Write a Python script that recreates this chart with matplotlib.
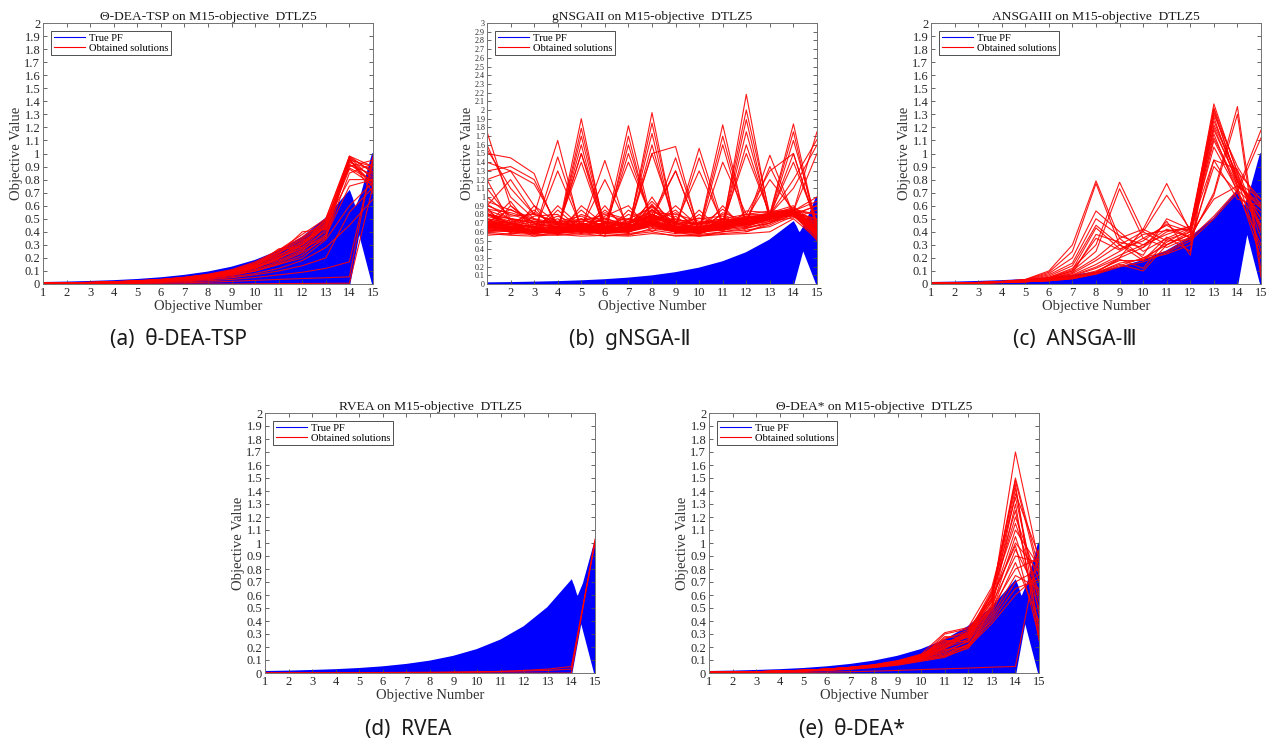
import matplotlib
matplotlib.use("Agg")
import matplotlib.pyplot as plt
from matplotlib.lines import Line2D

plt.rcParams["font.family"] = ["Liberation Serif", "DejaVu Serif"]

OBJ = list(range(1, 16))

# true Pareto front outline (DTLZ5, 15 objectives)
PF_TOP = [0.008, 0.011, 0.016, 0.022, 0.031, 0.044, 0.0625, 0.088, 0.125,
          0.177, 0.25, 0.354, 0.5, 0.707]
PF_DIP_X = [14.1, 14.2, 14.28, 14.53]
PF_DIP_Y = [0.66, 0.60, 0.58, 0.69]
PF_LAST = 1.0
NOTCH_X = 14.41
NOTCH_Y = 0.41

# obtained solutions, one row per solution (objectives 1..15)
TSP_SOLS = [
    [0.005, 0.007, 0.01, 0.014, 0.02, 0.028, 0.04, 0.06, 0.09, 0.14, 0.22, 0.3, 0.44, 0.97, 0.8],
    [0.006, 0.008, 0.011, 0.016, 0.022, 0.03, 0.045, 0.065, 0.1, 0.15, 0.24, 0.32, 0.46, 0.98, 0.85],
    [0.004, 0.006, 0.009, 0.012, 0.018, 0.025, 0.036, 0.055, 0.08, 0.12, 0.2, 0.28, 0.4, 0.95, 0.9],
    [0.005, 0.007, 0.01, 0.015, 0.02, 0.03, 0.042, 0.06, 0.09, 0.13, 0.18, 0.26, 0.38, 0.92, 0.78],
    [0.006, 0.009, 0.012, 0.017, 0.024, 0.034, 0.05, 0.07, 0.1, 0.16, 0.26, 0.36, 0.48, 0.9, 0.95],
    [0.004, 0.006, 0.008, 0.012, 0.017, 0.024, 0.035, 0.05, 0.075, 0.11, 0.17, 0.25, 0.42, 0.96, 0.7],
    [0.005, 0.007, 0.01, 0.014, 0.02, 0.029, 0.042, 0.06, 0.088, 0.13, 0.2, 0.3, 0.45, 0.94, 0.82],
    [0.006, 0.008, 0.011, 0.016, 0.023, 0.033, 0.048, 0.068, 0.1, 0.15, 0.23, 0.4, 0.42, 0.93, 0.88],
    [0.005, 0.007, 0.01, 0.015, 0.021, 0.03, 0.043, 0.062, 0.09, 0.14, 0.27, 0.28, 0.44, 0.88, 0.76],
    [0.004, 0.006, 0.009, 0.013, 0.019, 0.027, 0.038, 0.055, 0.08, 0.12, 0.19, 0.3, 0.5, 0.97, 0.86],
    [0.005, 0.007, 0.01, 0.014, 0.02, 0.028, 0.04, 0.058, 0.085, 0.125, 0.2, 0.27, 0.36, 0.85, 0.92],
    [0.006, 0.008, 0.012, 0.017, 0.024, 0.034, 0.05, 0.072, 0.105, 0.16, 0.24, 0.34, 0.47, 0.8, 0.8],
    [0.004, 0.006, 0.008, 0.011, 0.016, 0.022, 0.032, 0.046, 0.068, 0.1, 0.16, 0.24, 0.35, 0.96, 0.74],
    [0.005, 0.007, 0.01, 0.014, 0.02, 0.029, 0.041, 0.06, 0.09, 0.13, 0.21, 0.33, 0.43, 0.91, 0.84],
    [0.003, 0.005, 0.007, 0.01, 0.014, 0.02, 0.03, 0.045, 0.065, 0.1, 0.15, 0.22, 0.37, 0.75, 0.8],
    [0.004, 0.006, 0.008, 0.011, 0.016, 0.022, 0.032, 0.046, 0.07, 0.1, 0.15, 0.2, 0.34, 0.6, 0.78],
    [0.003, 0.004, 0.006, 0.009, 0.013, 0.018, 0.026, 0.038, 0.055, 0.08, 0.12, 0.18, 0.28, 0.45, 0.65],
    [0.003, 0.004, 0.006, 0.008, 0.011, 0.016, 0.023, 0.033, 0.048, 0.07, 0.1, 0.14, 0.2, 0.55, 0.74],
    [0.002, 0.003, 0.004, 0.006, 0.008, 0.012, 0.017, 0.025, 0.035, 0.05, 0.07, 0.09, 0.12, 0.17, 0.95],
    [0.001, 0.002, 0.003, 0.004, 0.005, 0.007, 0.01, 0.014, 0.02, 0.028, 0.035, 0.042, 0.048, 0.055, 0.98],
    [0.0, 0.0, 0.0, 0.0, 0.0, 0.0, 0.0, 0.0, 0.0, 0.002, 0.003, 0.004, 0.005, 0.006, 0.75],
    [0.006, 0.009, 0.013, 0.018, 0.026, 0.036, 0.052, 0.075, 0.11, 0.17, 0.26, 0.38, 0.5, 0.98, 0.9],
    [0.005, 0.008, 0.011, 0.016, 0.022, 0.031, 0.045, 0.065, 0.095, 0.145, 0.22, 0.31, 0.46, 0.95, 0.77],
    [0.005, 0.007, 0.01, 0.015, 0.021, 0.03, 0.044, 0.063, 0.093, 0.14, 0.25, 0.35, 0.49, 0.89, 0.79],
]

GNSGA_SOLS = [
    [0.58, 0.56, 0.55, 0.57, 0.55, 0.56, 0.55, 0.58, 0.56, 0.55, 0.57, 0.58, 0.6, 0.75, 0.52],
    [0.62, 0.6, 0.58, 0.6, 0.57, 0.6, 0.58, 0.62, 0.58, 0.57, 0.6, 0.62, 0.66, 0.78, 0.55],
    [0.66, 0.62, 0.6, 0.65, 0.6, 0.62, 0.6, 0.68, 0.6, 0.6, 0.62, 0.65, 0.7, 0.8, 0.58],
    [0.7, 0.65, 0.62, 0.58, 0.65, 0.66, 0.62, 0.72, 0.63, 0.62, 0.66, 0.68, 0.72, 0.82, 0.6],
    [0.75, 0.7, 0.65, 0.62, 0.7, 0.6, 0.66, 0.78, 0.66, 0.58, 0.7, 0.7, 0.75, 0.8, 0.65],
    [0.8, 0.72, 0.68, 0.66, 0.62, 0.7, 0.7, 0.85, 0.7, 0.65, 0.68, 0.72, 0.78, 0.85, 0.7],
    [0.85, 0.75, 0.7, 0.6, 0.75, 0.65, 0.62, 0.9, 0.62, 0.7, 0.72, 0.75, 0.8, 0.82, 0.75],
    [0.9, 0.8, 0.72, 0.7, 0.68, 0.75, 0.68, 0.95, 0.68, 0.62, 0.75, 0.7, 0.82, 0.86, 0.8],
    [0.95, 0.85, 0.75, 0.65, 0.8, 0.7, 0.75, 0.88, 0.75, 0.68, 0.66, 0.78, 0.78, 0.8, 0.9],
    [1.0, 0.78, 0.8, 0.72, 0.72, 0.8, 0.72, 0.82, 0.8, 0.72, 0.7, 0.8, 0.84, 0.84, 1.0],
    [0.6, 0.9, 0.66, 0.75, 0.6, 0.85, 0.65, 0.75, 0.72, 0.75, 0.78, 0.66, 0.76, 0.78, 0.62],
    [0.72, 0.68, 0.85, 0.62, 0.85, 0.62, 0.8, 0.7, 0.85, 0.6, 0.82, 0.72, 0.74, 0.8, 0.56],
    [0.82, 0.62, 0.78, 0.8, 0.58, 0.9, 0.58, 1.0, 0.6, 0.8, 0.62, 0.76, 0.8, 0.88, 0.7],
    [0.68, 0.95, 0.6, 0.9, 0.66, 0.58, 0.85, 0.66, 0.9, 0.66, 0.86, 0.64, 0.72, 0.76, 0.85],
    [0.88, 0.58, 0.9, 0.56, 0.9, 0.68, 0.6, 0.92, 0.58, 0.85, 0.6, 0.84, 0.82, 0.9, 0.6],
    [0.64, 0.74, 0.58, 0.85, 0.62, 0.78, 0.9, 0.6, 0.78, 0.58, 0.9, 0.6, 0.7, 0.84, 0.95],
    [0.56, 0.58, 0.57, 0.56, 0.58, 0.55, 0.57, 0.6, 0.55, 0.56, 0.58, 0.6, 0.68, 0.8, 0.5],
    [0.6, 0.57, 0.62, 0.58, 0.6, 0.58, 0.56, 0.64, 0.6, 0.55, 0.6, 0.64, 0.7, 0.82, 0.53],
    [0.74, 0.66, 0.6, 0.7, 0.62, 0.64, 0.66, 0.7, 0.64, 0.64, 0.64, 0.66, 0.74, 0.8, 0.58],
    [0.78, 0.7, 0.64, 0.66, 0.68, 0.6, 0.64, 0.8, 0.62, 0.6, 0.68, 0.7, 0.76, 0.84, 0.62],
    [0.84, 0.68, 0.66, 0.6, 0.64, 0.68, 0.6, 0.86, 0.64, 0.62, 0.7, 0.74, 0.8, 0.86, 0.56],
    [0.92, 0.74, 0.7, 0.64, 0.7, 0.64, 0.7, 0.9, 0.66, 0.64, 0.72, 0.76, 0.82, 0.84, 0.68],
    [0.86, 0.82, 0.74, 0.68, 0.72, 0.72, 0.68, 0.84, 0.72, 0.68, 0.74, 0.74, 0.8, 0.82, 0.74],
    [0.7, 0.86, 0.7, 0.72, 0.78, 0.66, 0.72, 0.76, 0.74, 0.7, 0.7, 0.78, 0.78, 0.84, 0.8],
    [0.66, 0.7, 0.82, 0.68, 0.74, 0.76, 0.66, 0.8, 0.68, 0.76, 0.66, 0.72, 0.76, 0.8, 0.9],
    [0.62, 0.64, 0.68, 0.78, 0.66, 0.82, 0.74, 0.72, 0.82, 0.64, 0.8, 0.68, 0.74, 0.86, 0.66],
    [1.75, 0.9, 0.7, 0.65, 0.6, 0.7, 0.65, 0.8, 0.7, 0.65, 0.7, 0.75, 0.8, 0.85, 0.6],
    [1.6, 1.0, 0.75, 0.7, 0.65, 0.75, 0.6, 0.85, 0.65, 0.7, 0.75, 0.7, 0.8, 0.8, 0.65],
    [1.55, 1.1, 0.8, 0.7, 0.66, 0.7, 0.66, 0.78, 0.66, 0.66, 0.7, 0.74, 0.8, 0.84, 0.62],
    [1.5, 1.45, 1.27, 0.6, 0.7, 0.65, 0.7, 0.75, 0.7, 0.6, 0.7, 0.72, 0.75, 0.85, 0.6],
    [1.3, 1.35, 1.2, 0.65, 0.6, 0.6, 0.75, 0.7, 0.6, 0.65, 0.65, 0.7, 0.8, 0.8, 0.7],
    [1.2, 1.3, 1.15, 0.68, 0.62, 0.64, 0.66, 0.72, 0.64, 0.62, 0.68, 0.7, 0.78, 0.82, 0.6],
    [1.4, 1.3, 0.9, 0.7, 0.75, 0.65, 0.7, 0.8, 0.7, 0.7, 0.75, 0.8, 0.8, 0.85, 0.6],
    [0.9, 1.2, 0.8, 1.65, 0.6, 0.7, 0.6, 0.8, 0.65, 0.6, 0.7, 0.7, 0.78, 0.82, 0.6],
    [0.8, 0.7, 0.6, 1.46, 0.65, 1.42, 0.6, 0.75, 0.62, 0.65, 0.7, 0.75, 0.78, 0.8, 0.55],
    [0.7, 0.65, 0.55, 0.6, 1.9, 0.6, 0.7, 0.8, 0.7, 0.6, 0.72, 0.7, 0.75, 0.82, 0.6],
    [0.75, 0.6, 0.6, 0.58, 1.79, 0.65, 0.6, 0.75, 0.65, 0.62, 0.68, 0.75, 0.8, 0.85, 0.65],
    [0.65, 0.62, 0.58, 0.62, 1.6, 0.58, 0.65, 0.7, 0.6, 0.6, 0.7, 0.72, 0.78, 0.8, 0.6],
    [1.1, 0.75, 0.7, 0.66, 1.4, 0.62, 0.66, 0.8, 0.64, 0.62, 0.7, 0.72, 0.78, 0.82, 0.6],
    [0.7, 0.66, 0.62, 0.6, 1.7, 0.62, 0.64, 0.74, 0.62, 0.6, 0.68, 0.72, 0.76, 0.84, 0.6],
    [0.68, 0.64, 0.6, 0.62, 1.5, 0.6, 0.66, 0.72, 0.6, 0.62, 0.7, 0.7, 0.78, 0.82, 0.62],
    [0.8, 0.75, 0.65, 0.6, 0.7, 0.6, 1.82, 0.7, 0.65, 0.58, 0.66, 0.7, 0.76, 0.8, 0.62],
    [0.7, 0.68, 0.62, 0.58, 0.65, 0.55, 1.7, 0.65, 0.6, 0.6, 0.7, 0.68, 0.75, 0.85, 0.58],
    [0.7, 0.68, 0.64, 0.6, 0.66, 0.6, 1.6, 0.7, 0.62, 0.6, 0.68, 0.7, 0.78, 0.8, 0.6],
    [0.68, 0.66, 0.6, 0.6, 0.64, 0.62, 1.5, 0.72, 0.64, 0.6, 0.66, 0.7, 0.76, 0.84, 0.58],
    [0.6, 0.62, 0.6, 0.6, 0.6, 0.62, 0.6, 1.97, 0.62, 0.58, 0.65, 0.7, 0.75, 0.82, 0.55],
    [0.66, 0.64, 0.62, 0.6, 0.62, 0.6, 0.64, 1.85, 0.64, 0.6, 0.66, 0.7, 0.76, 0.82, 0.6],
    [0.75, 0.7, 0.65, 0.65, 0.7, 0.6, 0.65, 1.73, 0.6, 0.65, 0.62, 0.68, 0.8, 0.8, 0.6],
    [0.7, 0.66, 0.62, 0.64, 0.64, 0.62, 0.62, 1.6, 0.62, 0.62, 0.66, 0.72, 0.78, 0.8, 0.62],
    [0.68, 0.65, 0.6, 0.62, 0.65, 0.65, 0.62, 1.5, 1.58, 0.6, 0.7, 0.72, 0.78, 0.84, 0.65],
    [0.64, 0.62, 0.6, 0.6, 0.62, 0.6, 0.62, 0.72, 1.45, 0.62, 0.66, 0.7, 0.78, 0.82, 0.58],
    [0.7, 0.66, 0.62, 0.6, 0.62, 0.6, 0.68, 0.72, 0.65, 1.56, 0.7, 0.7, 0.76, 0.8, 0.6],
    [0.66, 0.64, 0.6, 0.62, 0.62, 0.6, 0.62, 0.7, 0.64, 1.45, 0.66, 0.7, 0.78, 0.8, 0.6],
    [0.62, 0.6, 0.58, 0.62, 0.6, 0.58, 0.6, 0.7, 0.6, 0.62, 1.83, 0.68, 0.75, 0.82, 0.58],
    [0.68, 0.66, 0.62, 0.6, 0.62, 0.6, 0.62, 0.7, 0.62, 0.62, 1.7, 0.7, 0.76, 0.82, 0.6],
    [0.72, 0.7, 0.64, 0.6, 0.66, 0.62, 0.64, 0.68, 0.62, 0.6, 1.6, 0.66, 0.78, 0.8, 0.62],
    [0.66, 0.62, 0.6, 0.64, 0.62, 0.6, 0.62, 0.66, 0.6, 0.58, 0.65, 2.18, 0.75, 0.84, 0.6],
    [0.7, 0.66, 0.62, 0.6, 0.6, 0.62, 0.6, 0.7, 0.62, 0.6, 0.7, 2.0, 0.8, 0.8, 0.58],
    [0.64, 0.6, 0.6, 0.58, 0.62, 0.6, 0.62, 0.68, 0.6, 0.62, 0.66, 1.89, 0.72, 0.82, 0.62],
    [0.66, 0.62, 0.6, 0.6, 0.62, 0.6, 0.62, 0.7, 0.62, 0.6, 0.66, 1.75, 0.76, 0.8, 0.62],
    [0.68, 0.64, 0.6, 0.62, 0.62, 0.6, 0.62, 0.68, 0.6, 0.62, 0.66, 1.6, 0.78, 0.84, 0.58],
    [0.68, 0.64, 0.62, 0.6, 0.64, 0.6, 0.6, 0.66, 0.64, 0.6, 0.62, 0.7, 1.48, 0.8, 0.6],
    [0.66, 0.62, 0.6, 0.6, 0.62, 0.6, 0.6, 0.68, 0.62, 0.6, 0.64, 0.7, 1.35, 0.8, 0.62],
    [0.72, 0.66, 0.6, 0.62, 0.62, 0.64, 0.62, 0.7, 0.6, 0.6, 0.66, 0.72, 0.8, 1.84, 0.62],
    [0.7, 0.66, 0.62, 0.6, 0.62, 0.62, 0.6, 0.7, 0.62, 0.6, 0.64, 0.72, 0.8, 1.75, 0.6],
    [0.66, 0.62, 0.6, 0.6, 0.62, 0.6, 0.62, 0.68, 0.62, 0.6, 0.64, 0.7, 0.78, 1.65, 0.7],
    [0.68, 0.64, 0.6, 0.6, 0.62, 0.6, 0.62, 0.68, 0.62, 0.6, 0.64, 0.7, 0.78, 1.5, 0.66],
    [0.7, 0.66, 0.62, 0.6, 0.62, 0.62, 0.6, 0.7, 0.62, 0.6, 0.64, 0.7, 0.78, 0.84, 1.75],
    [0.68, 0.64, 0.6, 0.62, 0.6, 0.6, 0.62, 0.68, 0.6, 0.62, 0.66, 0.7, 0.8, 1.2, 1.66],
    [0.72, 0.7, 0.66, 0.64, 0.66, 0.64, 0.66, 0.72, 0.66, 0.64, 0.68, 0.72, 0.8, 1.1, 1.6],
    [0.8, 0.75, 0.72, 0.7, 0.68, 0.7, 0.7, 0.76, 0.7, 0.7, 0.72, 0.76, 0.8, 0.84, 1.5],
    [0.8, 0.7, 0.6, 1.3, 0.65, 0.7, 1.4, 0.75, 1.3, 0.6, 0.7, 1.5, 0.8, 1.4, 0.7],
    [0.7, 0.65, 0.6, 0.65, 1.5, 0.7, 0.65, 1.5, 0.7, 1.3, 0.7, 0.75, 1.2, 0.85, 0.6],
    [1.2, 0.7, 0.65, 0.7, 0.65, 1.2, 0.65, 0.8, 1.3, 0.6, 1.4, 0.8, 1.3, 1.5, 0.65],
]

ANSGA_SOLS = [
    [0.005, 0.008, 0.012, 0.02, 0.035, 0.1, 0.3, 0.79, 0.35, 0.2, 0.3, 0.4, 1.38, 0.85, 0.4],
    [0.005, 0.008, 0.012, 0.02, 0.033, 0.09, 0.25, 0.77, 0.3, 0.18, 0.32, 0.42, 1.32, 0.8, 0.5],
    [0.005, 0.007, 0.011, 0.018, 0.03, 0.08, 0.2, 0.56, 0.4, 0.25, 0.35, 0.43, 1.28, 0.75, 0.6],
    [0.005, 0.007, 0.01, 0.017, 0.028, 0.07, 0.16, 0.5, 0.37, 0.3, 0.38, 0.44, 1.25, 0.82, 0.45],
    [0.004, 0.007, 0.01, 0.016, 0.026, 0.06, 0.14, 0.45, 0.3, 0.22, 0.5, 0.42, 1.2, 0.78, 0.65],
    [0.004, 0.006, 0.01, 0.016, 0.025, 0.05, 0.12, 0.3, 0.78, 0.4, 0.3, 0.38, 1.15, 0.7, 0.3],
    [0.004, 0.006, 0.009, 0.015, 0.024, 0.045, 0.1, 0.25, 0.73, 0.35, 0.28, 0.36, 1.1, 0.74, 0.2],
    [0.004, 0.006, 0.009, 0.015, 0.022, 0.04, 0.09, 0.2, 0.35, 0.42, 0.77, 0.4, 1.05, 0.72, 0.55],
    [0.004, 0.006, 0.009, 0.014, 0.022, 0.04, 0.08, 0.18, 0.3, 0.4, 0.68, 0.42, 0.95, 0.88, 0.42],
    [0.004, 0.006, 0.009, 0.014, 0.021, 0.035, 0.07, 0.15, 0.25, 0.35, 0.45, 0.35, 0.7, 1.36, 0.1],
    [0.004, 0.006, 0.009, 0.014, 0.021, 0.035, 0.065, 0.13, 0.22, 0.3, 0.42, 0.36, 0.68, 1.3, 0.05],
    [0.004, 0.006, 0.009, 0.013, 0.02, 0.03, 0.06, 0.12, 0.2, 0.28, 0.48, 0.22, 1.3, 0.9, 0.6],
    [0.004, 0.006, 0.008, 0.013, 0.02, 0.03, 0.055, 0.1, 0.18, 0.18, 0.36, 0.25, 1.35, 0.86, 0.65],
    [0.004, 0.006, 0.008, 0.012, 0.019, 0.028, 0.05, 0.09, 0.19, 0.12, 0.34, 0.4, 1.22, 0.84, 0.35],
    [0.004, 0.005, 0.008, 0.012, 0.018, 0.026, 0.045, 0.085, 0.15, 0.1, 0.3, 0.38, 0.65, 0.75, 0.62],
    [0.003, 0.005, 0.008, 0.012, 0.018, 0.025, 0.04, 0.08, 0.14, 0.2, 0.25, 0.35, 0.52, 0.72, 1.18],
    [0.003, 0.005, 0.007, 0.011, 0.017, 0.025, 0.04, 0.075, 0.13, 0.17, 0.24, 0.33, 0.5, 0.7, 1.12],
    [0.004, 0.006, 0.009, 0.014, 0.022, 0.04, 0.08, 0.38, 0.32, 0.28, 0.4, 0.44, 1.34, 0.78, 0.5],
    [0.004, 0.006, 0.009, 0.014, 0.022, 0.05, 0.11, 0.43, 0.27, 0.33, 0.46, 0.4, 1.18, 0.8, 0.25],
    [0.004, 0.006, 0.009, 0.014, 0.022, 0.045, 0.1, 0.35, 0.26, 0.38, 0.41, 0.42, 1.12, 0.76, 0.58],
    [0.003, 0.005, 0.008, 0.012, 0.018, 0.028, 0.05, 0.09, 0.2, 0.42, 0.33, 0.34, 0.9, 0.7, 0.45],
    [0.003, 0.005, 0.008, 0.012, 0.018, 0.026, 0.045, 0.085, 0.16, 0.19, 0.23, 0.3, 0.95, 0.65, 0.6],
]

RVEA_SOLS = [
    [0.0, 0.0, 0.0, 0.0, 0.0, 0.0, 0.001, 0.002, 0.004, 0.007, 0.012, 0.02, 0.03, 0.05, 1.0],
    [0.0, 0.0, 0.0, 0.0, 0.0, 0.0, 0.0, 0.0, 0.0, 0.0, 0.0, 0.0, 0.0, 0.0, 1.03],
    [0.001, 0.001, 0.002, 0.002, 0.003, 0.004, 0.005, 0.006, 0.008, 0.01, 0.012, 0.015, 0.02, 0.03, 1.01],
]

DEA_SOLS = [
    [0.005, 0.007, 0.01, 0.015, 0.021, 0.03, 0.043, 0.06, 0.09, 0.13, 0.2, 0.3, 0.55, 1.7, 0.85],
    [0.005, 0.007, 0.01, 0.015, 0.021, 0.03, 0.043, 0.062, 0.092, 0.14, 0.22, 0.32, 0.6, 1.5, 0.8],
    [0.005, 0.007, 0.01, 0.014, 0.02, 0.029, 0.042, 0.06, 0.088, 0.13, 0.24, 0.28, 0.58, 1.48, 0.75],
    [0.005, 0.007, 0.01, 0.014, 0.02, 0.028, 0.04, 0.058, 0.085, 0.125, 0.21, 0.3, 0.62, 1.45, 0.3],
    [0.004, 0.006, 0.009, 0.013, 0.019, 0.027, 0.038, 0.055, 0.08, 0.12, 0.3, 0.34, 0.56, 1.42, 0.45],
    [0.004, 0.006, 0.009, 0.013, 0.019, 0.027, 0.038, 0.055, 0.08, 0.12, 0.19, 0.26, 0.52, 1.38, 0.9],
    [0.004, 0.006, 0.009, 0.013, 0.018, 0.026, 0.036, 0.052, 0.075, 0.11, 0.18, 0.2, 0.5, 1.3, 0.25],
    [0.005, 0.007, 0.01, 0.014, 0.02, 0.028, 0.04, 0.058, 0.085, 0.13, 0.23, 0.3, 0.64, 1.25, 0.35],
    [0.005, 0.007, 0.01, 0.015, 0.021, 0.03, 0.043, 0.062, 0.09, 0.14, 0.26, 0.33, 0.6, 1.2, 0.7],
    [0.004, 0.006, 0.009, 0.013, 0.019, 0.027, 0.038, 0.055, 0.08, 0.12, 0.2, 0.28, 0.55, 1.1, 0.82],
    [0.004, 0.006, 0.009, 0.013, 0.019, 0.027, 0.038, 0.054, 0.078, 0.115, 0.16, 0.25, 0.5, 1.05, 0.5],
    [0.005, 0.007, 0.01, 0.014, 0.02, 0.029, 0.041, 0.059, 0.087, 0.13, 0.22, 0.31, 0.57, 1.0, 0.78],
    [0.004, 0.006, 0.009, 0.013, 0.018, 0.026, 0.037, 0.053, 0.077, 0.11, 0.17, 0.24, 0.48, 0.95, 0.6],
    [0.004, 0.006, 0.009, 0.013, 0.019, 0.027, 0.038, 0.055, 0.08, 0.12, 0.28, 0.27, 0.53, 0.9, 0.85],
    [0.004, 0.006, 0.008, 0.012, 0.017, 0.024, 0.034, 0.05, 0.072, 0.105, 0.15, 0.22, 0.46, 0.85, 0.4],
    [0.004, 0.006, 0.009, 0.013, 0.018, 0.026, 0.037, 0.053, 0.078, 0.115, 0.19, 0.29, 0.5, 0.8, 0.88],
    [0.004, 0.006, 0.008, 0.012, 0.017, 0.024, 0.034, 0.05, 0.072, 0.105, 0.14, 0.21, 0.44, 0.75, 0.65],
    [0.003, 0.005, 0.008, 0.011, 0.016, 0.023, 0.033, 0.048, 0.07, 0.1, 0.13, 0.19, 0.42, 0.7, 0.8],
    [0.003, 0.005, 0.007, 0.01, 0.015, 0.021, 0.03, 0.044, 0.064, 0.095, 0.13, 0.22, 0.4, 0.65, 0.72],
    [0.003, 0.005, 0.007, 0.01, 0.014, 0.02, 0.029, 0.042, 0.06, 0.09, 0.12, 0.2, 0.38, 0.6, 0.76],
    [0.001, 0.002, 0.003, 0.004, 0.005, 0.007, 0.01, 0.014, 0.02, 0.026, 0.032, 0.038, 0.045, 0.05, 0.95],
    [0.005, 0.007, 0.01, 0.015, 0.021, 0.03, 0.044, 0.064, 0.095, 0.145, 0.31, 0.35, 0.66, 1.35, 0.55],
    [0.005, 0.007, 0.01, 0.015, 0.021, 0.03, 0.043, 0.06, 0.09, 0.13, 0.25, 0.24, 0.62, 1.15, 0.62],
    [0.004, 0.006, 0.009, 0.013, 0.019, 0.027, 0.038, 0.055, 0.08, 0.12, 0.27, 0.31, 0.58, 0.98, 0.28],
]

TITLES = ["Θ-DEA-TSP on M15-objective  DTLZ5", "gNSGAII on M15-objective  DTLZ5",
          "ANSGAIII on M15-objective  DTLZ5", "RVEA on M15-objective  DTLZ5",
          "Θ-DEA* on M15-objective  DTLZ5"]
CAPTIONS = ["(a)  θ-DEA-TSP", "(b)  gNSGA-Ⅱ", "(c)  ANSGA-Ⅲ", "(d)  RVEA", "(e)  θ-DEA*"]
ALL_SOLS = [TSP_SOLS, GNSGA_SOLS, ANSGA_SOLS, RVEA_SOLS, DEA_SOLS]
Y_MAX = [2, 3, 2, 2, 2]

W, H = 1272, 745
# axes boxes in pixels: left, top, width, height
BOXES = [(43, 23, 330, 261), (487, 23, 330, 261), (931, 23, 330, 261),
         (265, 413, 330, 260), (709, 413, 330, 260)]
CAP_POS = [(178, 340), (630, 340), (1075, 340), (408, 730), (852, 730)]

fig = plt.figure(figsize=(W / 100, H / 100), dpi=100)

pf_x = [1] + OBJ[:14] + PF_DIP_X + [15, 15, NOTCH_X, 14]
pf_y = [0] + PF_TOP + PF_DIP_Y + [PF_LAST, 0, NOTCH_Y, 0]

for i in range(5):
    l, t, w, h = BOXES[i]
    ax = fig.add_axes([l / W, (H - t - h) / H, w / W, h / H])
    ax.fill(pf_x, pf_y, color="#0000ff", lw=1.4, zorder=1)
    for row in ALL_SOLS[i]:
        ax.plot(OBJ, row, color="#ff0000", lw=0.8, alpha=0.9, zorder=2)

    ax.set_xlim(1, 15)
    ax.set_ylim(0, Y_MAX[i])
    ax.set_xticks(OBJ)
    yt = [k / 10 for k in range(Y_MAX[i] * 10 + 1)]
    ax.set_yticks(yt)
    ax.set_yticklabels(["%g" % v for v in yt])
    ax.tick_params(direction="in", length=3, width=0.6, top=True, right=True,
                   labelsize=9, pad=2, colors="0.3", labelcolor="0.15")
    if Y_MAX[i] > 2:
        # 0..3 range packs the labels tightly
        ax.tick_params(axis="y", labelsize=5.8, pad=1.5)
    for s in ax.spines.values():
        s.set_color("0.45")
        s.set_linewidth(0.7)
    ax.set_title(TITLES[i], fontsize=9.7, pad=2, color="0.1")
    ax.set_xlabel("Objective Number", fontsize=10.5, labelpad=1, color="0.2")
    ax.set_ylabel("Objective Value", fontsize=10.5, labelpad=1, color="0.2")

    handles = [Line2D([], [], color="#0000ff", lw=0.8),
               Line2D([], [], color="#ff0000", lw=0.8)]
    leg = ax.legend(handles, ["True PF", "Obtained solutions"], loc="upper left",
                    bbox_to_anchor=(0.025, 0.97), fontsize=7.6, fancybox=False,
                    framealpha=1, edgecolor="0.2", borderpad=0.25,
                    labelspacing=0.05, handlelength=2.9, handletextpad=0.4,
                    borderaxespad=0)
    leg.get_frame().set_linewidth(0.6)

    cx, cy = CAP_POS[i]
    fig.text(cx / W, 1 - cy / H, CAPTIONS[i], ha="center", va="center",
             fontsize=15, family=["Noto Sans", "DejaVu Sans"], color="0.1")

fig.savefig("out.png", dpi=100, facecolor="white")
